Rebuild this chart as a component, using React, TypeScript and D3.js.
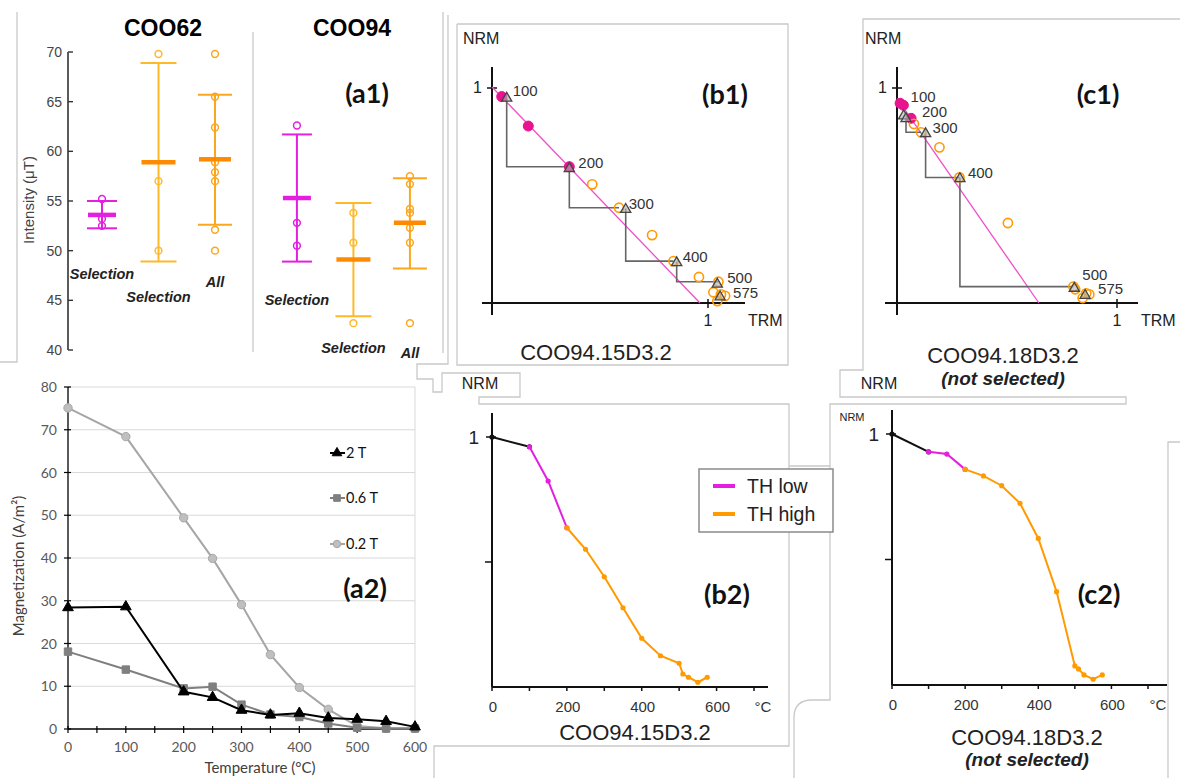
import React from "react";
import * as d3 from "d3";

const ARIAL = "'Liberation Sans', Arial, sans-serif";
const CAL = "Lato, 'Open Sans', sans-serif";

// ---------- (a1) palaeointensity summary ----------
const a1Sites = ["COO62", "COO94"];
const a1GroupLabels = ["Selection", "Selection", "All", "Selection", "Selection", "All"];
const a1GroupKinds = ["low", "high", "all", "low", "high", "all"];
const a1Means = [53.6, 58.9, 59.2, 55.3, 49.1, 52.8];
const a1Upper = [55.0, 68.9, 65.7, 61.7, 54.8, 57.3];
const a1Lower = [52.25, 48.9, 52.6, 48.9, 43.4, 48.2];
const a1Points = [
  [55.2, 53.2, 52.5],
  [69.8, 57.0, 50.0],
  [69.8, 65.5, 62.4, 58.9, 57.9, 57.0, 52.1, 50.0],
  [62.6, 52.8, 50.5],
  [53.8, 50.8, 42.7],
  [57.5, 56.7, 54.2, 53.8, 52.3, 50.8, 42.7],
];
const a1YTicks = [40, 45, 50, 55, 60, 65, 70];

// ---------- (a2) thermomagnetic curves ----------
const a2Temps = [0, 100, 200, 250, 300, 350, 400, 450, 500, 550, 600];
const a2Mag2T = [28.4, 28.6, 8.7, 7.4, 4.4, 3.3, 3.7, 2.6, 2.3, 1.8, 0.5];
const a2Mag06T = [18.1, 13.9, 9.5, 9.9, 5.7, 3.4, 2.8, 1.3, 0.3, 0.1, 0.1];
const a2Mag02T = [75.1, 68.4, 49.4, 39.9, 29.1, 17.4, 9.7, 4.6, 0.7, 0.15, 0.2];
const a2SeriesNames = ["2 T", "0.6 T", "0.2 T"];
const a2XTicks = [0, 100, 200, 300, 400, 500, 600];
const a2YTicks = [0, 10, 20, 30, 40, 50, 60, 70, 80];

// ---------- (b2)/(c2) NRM demagnetisation ----------
const thTemps = [0, 100, 150, 200, 250, 300, 350, 400, 450, 500, 510, 525, 550, 575];
const b2NRM = [1, 0.961, 0.824, 0.637, 0.551, 0.441, 0.317, 0.195, 0.125, 0.095, 0.052, 0.039, 0.019, 0.039];
const c2NRM = [1, 0.929, 0.92, 0.859, 0.833, 0.794, 0.724, 0.584, 0.372, 0.076, 0.064, 0.04, 0.023, 0.04];
const thLowRange = [100, 200];
const demagXTicks = [0, 100, 200, 300, 400, 500, 600, 700];
const demagXLabels = [0, 200, 400, 600];
const legendNames = ["TH low", "TH high"];

// ---------- (b1)/(c1) Arai plots ----------
const araiTemps = [100, 150, 200, 250, 300, 350, 400, 450, 500, 510, 525, 550, 575];
const b1TRM = [0.045, 0.168, 0.358, 0.464, 0.588, 0.741, 0.84, 0.958, 1.048, 1.025, 1.079, 1.043, 1.06];
const b1NRM = [0.96, 0.823, 0.634, 0.552, 0.443, 0.316, 0.195, 0.121, 0.099, 0.05, 0.033, 0.009, 0.04];
const b1CheckTemps = [100, 200, 300, 400, 500, 575];
const b1CheckTRM = [0.068, 0.358, 0.619, 0.855, 1.043, 1.056];
const b1CheckNRM = [0.957, 0.63, 0.44, 0.192, 0.092, 0.033];
const b1CheckTarget = [200, 300, 400, 500, null, null];
const b1Fit = [[0, 1.005], [0.963, 0]];

const c1TRM = [0.014, 0.029, 0.064, 0.077, 0.109, 0.193, 0.284, 0.504, 0.802, 0.81, 0.874, 0.844, 0.86];
const c1NRM = [0.929, 0.92, 0.859, 0.833, 0.794, 0.724, 0.584, 0.372, 0.076, 0.064, 0.04, 0.023, 0.045];
const c1CheckTemps = [100, 200, 300, 400, 500, 575];
const c1CheckTRM = [0.03, 0.041, 0.13, 0.286, 0.806, 0.855];
const c1CheckNRM = [0.875, 0.862, 0.792, 0.583, 0.073, 0.04];
const c1CheckTarget = [null, 300, 400, 500, null, null];
const c1Fit = [[0, 0.952], [0.645, 0]];

const MAG = "#E41FE0";
const PINK = "#E8138E";
const ORANGE = "#FF9A00";
const GOLD = "#FDB92A";
const ALLOR = "#FBA71E";
const MEANOR = "#FF8A00";
const FRAME = "#c9c9c9";

function Poly({ pts }: { pts: number[][] }) {
  return <polyline points={pts.map((p) => p.join(",")).join(" ")} fill="none" stroke={FRAME} strokeWidth={1.3} />;
}

function PanelA1() {
  const y = d3.scaleLinear().domain([40, 70]).range([350, 52]);
  const slot = (i: number) => (i < 3 ? i : i + 0.45);
  const gx = d3.scaleLinear().domain([0, 1]).range([102, 158.5]);
  const labelY = [279, 302, 287, 305, 353, 358];
  const capHalf: Record<string, number> = { low: 15, high: 18, all: 17 };
  const color: Record<string, string> = { low: MAG, high: GOLD, all: ALLOR };
  const meanColor: Record<string, string> = { low: MAG, high: MEANOR, all: MEANOR };
  return (
    <g>
      <text x={163} y={36} textAnchor="middle" fontFamily={ARIAL} fontWeight="bold" fontSize={23} fill="#000">{a1Sites[0]}</text>
      <text x={352} y={36} textAnchor="middle" fontFamily={ARIAL} fontWeight="bold" fontSize={23} fill="#000">{a1Sites[1]}</text>
      <text x={367} y={103} textAnchor="middle" fontFamily={CAL} fontWeight="bold" fontSize={27} fill="#111">(a1)</text>
      <line x1={68} x2={68} y1={y(70)} y2={y(40)} stroke="#333" strokeWidth={1.6} />
      {a1YTicks.map((t) => (
        <g key={t}>
          <line x1={68} x2={73} y1={y(t)} y2={y(t)} stroke="#333" strokeWidth={1.4} />
          <text x={62} y={y(t) + 5} textAnchor="end" fontFamily={ARIAL} fontSize={14} fill="#444">{t}</text>
        </g>
      ))}
      <text transform={`translate(34,200) rotate(-90)`} textAnchor="middle" fontFamily={ARIAL} fontSize={15} fill="#444">Intensity (μT)</text>
      {a1Means.map((m, i) => {
        const k = a1GroupKinds[i];
        const cx = gx(slot(i));
        const h = capHalf[k];
        const c = color[k];
        return (
          <g key={i}>
            <line x1={cx} x2={cx} y1={y(a1Upper[i])} y2={y(a1Lower[i])} stroke={c} strokeWidth={2} />
            <line x1={cx - h} x2={cx + h} y1={y(a1Upper[i])} y2={y(a1Upper[i])} stroke={c} strokeWidth={2} />
            <line x1={cx - h} x2={cx + h} y1={y(a1Lower[i])} y2={y(a1Lower[i])} stroke={c} strokeWidth={2} />
            {a1Points[i].map((p, j) => (
              <circle key={j} cx={cx} cy={y(p)} r={3.4} fill="none" stroke={c} strokeWidth={1.5} />
            ))}
            <line x1={cx - h + 1} x2={cx + h - 1} y1={y(m)} y2={y(m)} stroke={meanColor[k]} strokeWidth={4.5} />
            <text x={cx} y={labelY[i]} textAnchor="middle" fontFamily={ARIAL} fontWeight="bold" fontStyle="italic" fontSize={14.5} fill="#222">{a1GroupLabels[i]}</text>
          </g>
        );
      })}
    </g>
  );
}

function PanelA2() {
  const x = d3.scaleLinear().domain([0, 600]).range([68, 415]);
  const y = d3.scaleLinear().domain([0, 80]).range([729, 387]);
  const line = d3.line<number>().x((_, i) => x(a2Temps[i])).y((d) => y(d));
  const series = [
    { name: a2SeriesNames[2], data: a2Mag02T, color: "#A6A6A6", fill: "#BFBFBF", shape: "circle" },
    { name: a2SeriesNames[1], data: a2Mag06T, color: "#7F7F7F", fill: "#7F7F7F", shape: "square" },
    { name: a2SeriesNames[0], data: a2Mag2T, color: "#000", fill: "#000", shape: "triangle" },
  ];
  const sym = (shape: string, s = 1) =>
    d3.symbol().type(shape === "circle" ? d3.symbolCircle : shape === "square" ? d3.symbolSquare : d3.symbolTriangle).size((shape === "triangle" ? 50 : 55) * s)();
  const legendOrder = [series[2], series[1], series[0]];
  const legendY = [453, 498, 544];
  const minor = d3.range(0, 601, 50);
  return (
    <g>
      {a2YTicks.filter((t) => t > 0).map((t) => (
        <line key={t} x1={x(0)} x2={x(600)} y1={y(t)} y2={y(t)} stroke="#d9d9d9" strokeWidth={1} />
      ))}
      <line x1={x(600)} x2={x(600)} y1={y(80)} y2={y(0)} stroke="#d9d9d9" strokeWidth={1} />
      <line x1={x(0)} x2={x(0)} y1={y(80)} y2={y(0)} stroke="#000" strokeWidth={1.3} />
      <line x1={x(0)} x2={x(600)} y1={y(0)} y2={y(0)} stroke="#000" strokeWidth={1.3} />
      {a2YTicks.map((t) => (
        <g key={t}>
          <line x1={x(0) - 4} x2={x(0) + 3} y1={y(t)} y2={y(t)} stroke="#000" strokeWidth={1.2} />
          <text x={57} y={y(t) + 5} textAnchor="end" fontFamily={CAL} fontSize={14} fill="#595959">{t}</text>
        </g>
      ))}
      {minor.map((t) => (
        <line key={t} x1={x(t)} x2={x(t)} y1={y(0) - 3} y2={y(0) + 4} stroke="#000" strokeWidth={1.2} />
      ))}
      {a2XTicks.map((t) => (
        <text key={t} x={x(t)} y={752} textAnchor="middle" fontFamily={CAL} fontSize={14} fill="#595959">{t}</text>
      ))}
      <text x={260} y={773} textAnchor="middle" fontFamily={CAL} fontSize={15} fill="#404040">Temperature (°C)</text>
      <text transform="translate(24,566) rotate(-90)" textAnchor="middle" fontFamily={CAL} fontSize={15} fill="#404040">Magnetization (A/m²)</text>
      {series.map((s) => (
        <g key={s.name}>
          <path d={line(s.data) || ""} fill="none" stroke={s.color} strokeWidth={2} />
          {s.data.map((d, i) => (
            <path key={i} d={sym(s.shape) || ""} transform={`translate(${x(a2Temps[i])},${y(d)})`} fill={s.fill} stroke={s.color} strokeWidth={1} />
          ))}
        </g>
      ))}
      {legendOrder.map((s, i) => (
        <g key={s.name}>
          <line x1={330} x2={345} y1={legendY[i]} y2={legendY[i]} stroke={s.color} strokeWidth={2} />
          <path d={sym(s.shape, 0.8) || ""} transform={`translate(337,${legendY[i]})`} fill={s.fill} stroke={s.color} />
          <text x={346} y={legendY[i] + 5} fontFamily={CAL} fontSize={14.5} fill="#111">{s.name}</text>
        </g>
      ))}
      <text x={365} y={598} textAnchor="middle" fontFamily={CAL} fontWeight="bold" fontSize={27} fill="#111">(a2)</text>
    </g>
  );
}

type AraiProps = {
  x0: number; x1: number; y0: number; y1: number; axTop: number; axBottom: number; axLeft: number; axRight: number;
  trm: number[]; nrm: number[]; cT: number[]; cTrm: number[]; cNrm: number[]; cTarget: (number | null)[];
  fit: number[][]; labelOff: number[][]; tag: string; tagX: number; name: string; nameY: number; sub?: string;
  nrmX: number;
};

function Arai(p: AraiProps) {
  const x = d3.scaleLinear().domain([0, 1]).range([p.x0, p.x1]);
  const y = d3.scaleLinear().domain([0, 1]).range([p.y0, p.y1]);
  const tri = d3.symbol().type(d3.symbolTriangle).size(45)() || "";
  const lowIdx = (t: number) => t >= thLowRange[0] && t <= thLowRange[1];
  const idxOf = (t: number) => araiTemps.indexOf(t);
  const cx = (p.x0 + p.x1) / 2;
  return (
    <g>
      <text x={p.nrmX} y={44} fontFamily={ARIAL} fontSize={16} fill="#222">NRM</text>
      <line x1={p.x0} x2={p.x0} y1={p.axTop} y2={p.axBottom} stroke="#111" strokeWidth={2} />
      <line x1={p.axLeft} x2={p.axRight} y1={p.y0} y2={p.y0} stroke="#111" strokeWidth={2} />
      <line x1={p.x0 - 5} x2={p.x0 + 5} y1={y(1)} y2={y(1)} stroke="#111" strokeWidth={1.5} />
      <line x1={x(1)} x2={x(1)} y1={p.y0 - 4} y2={p.y0 + 5} stroke="#111" strokeWidth={1.5} />
      <text x={p.x0 - 10} y={y(1) + 5} textAnchor="end" fontFamily={ARIAL} fontSize={16} fill="#222">1</text>
      <text x={x(1)} y={p.y0 + 23} textAnchor="middle" fontFamily={ARIAL} fontSize={16} fill="#222">1</text>
      <text x={p.axRight + 3} y={p.y0 + 23} fontFamily={ARIAL} fontSize={16} fill="#222">TRM</text>
      <line x1={x(p.fit[0][0])} y1={y(p.fit[0][1])} x2={x(p.fit[1][0])} y2={y(p.fit[1][1])} stroke="#F04FC8" strokeWidth={1.3} />
      {p.cT.map((t, i) => {
        const tgt = p.cTarget[i];
        if (tgt == null) return null;
        const j = idxOf(tgt);
        const pts = [
          [x(p.cTrm[i]), y(p.cNrm[i])],
          [x(p.cTrm[i]), y(p.nrm[j])],
          [x(p.trm[j]), y(p.nrm[j])],
        ];
        return <polyline key={t} points={pts.map((q) => q.join(",")).join(" ")} fill="none" stroke="#666" strokeWidth={1.6} />;
      })}
      {p.trm.map((v, i) =>
        lowIdx(araiTemps[i]) ? (
          <circle key={i} cx={x(v)} cy={y(p.nrm[i])} r={5} fill={PINK} stroke={PINK} />
        ) : (
          <circle key={i} cx={x(v)} cy={y(p.nrm[i])} r={4.6} fill="none" stroke={ORANGE} strokeWidth={1.6} />
        )
      )}
      {p.cT.map((t, i) => (
        <path key={t} d={tri} transform={`translate(${x(p.cTrm[i])},${y(p.cNrm[i]) + 1})`} fill="#b0b0b0" stroke="#444" strokeWidth={1.3} fillOpacity={0.6} />
      ))}
      {p.cT.map((t, i) => (
        <text key={t} x={x(p.cTrm[i]) + p.labelOff[i][0]} y={y(p.cNrm[i]) + p.labelOff[i][1]} fontFamily={ARIAL} fontSize={15} fill="#333">{t}</text>
      ))}
      <text x={p.tagX} y={104} textAnchor="middle" fontFamily={CAL} fontWeight="bold" fontSize={27} fill="#111">{p.tag}</text>
      <text x={cx - 4} y={p.nameY} textAnchor="middle" fontFamily={ARIAL} fontSize={22} fill="#222">{p.name}</text>
      {p.sub && (
        <text x={cx - 4} y={p.nameY + 22} textAnchor="middle" fontFamily={ARIAL} fontWeight="bold" fontStyle="italic" fontSize={19} fill="#222">{p.sub}</text>
      )}
    </g>
  );
}

type DemagProps = {
  x0: number; x700: number; y0: number; y1: number; axTop: number; axRight: number; data: number[];
  tag: string; tagX: number; name: string; nameX: number; nameY: number; sub?: string; degX: number;
};

function Demag(p: DemagProps) {
  const x = d3.scaleLinear().domain([0, 700]).range([p.x0, p.x700]);
  const y = d3.scaleLinear().domain([0, 1]).range([p.y0, p.y1]);
  const line = d3.line<number>().x((i) => x(thTemps[i])).y((i) => y(p.data[i]));
  const idx = thTemps.map((_, i) => i);
  const lo = thTemps.indexOf(thLowRange[0]);
  const hi = thTemps.indexOf(thLowRange[1]);
  const segs = [
    { ids: idx.slice(0, lo + 1), color: "#111" },
    { ids: idx.slice(lo, hi + 1), color: MAG },
    { ids: idx.slice(hi), color: ORANGE },
  ];
  return (
    <g>
      <line x1={p.x0} x2={p.x0} y1={p.axTop} y2={p.y0} stroke="#111" strokeWidth={2} />
      <line x1={p.x0} x2={p.axRight} y1={p.y0} y2={p.y0} stroke="#111" strokeWidth={2} />
      <line x1={p.x0 - 6} x2={p.x0 + 4} y1={y(1)} y2={y(1)} stroke="#111" strokeWidth={1.5} />
      <line x1={p.x0 - 7} x2={p.x0} y1={y(0.5)} y2={y(0.5)} stroke="#111" strokeWidth={1.5} />
      <text x={p.x0 - 13} y={y(1) + 7} textAnchor="end" fontFamily={ARIAL} fontSize={19} fill="#222">1</text>
      {demagXTicks.map((t) => (
        <line key={t} x1={x(t)} x2={x(t)} y1={p.y0} y2={p.y0 + 4} stroke="#111" strokeWidth={1.5} />
      ))}
      {demagXLabels.map((t) => (
        <text key={t} x={x(t) + 1} y={p.y0 + 25} textAnchor="middle" fontFamily={ARIAL} fontSize={15} fill="#333">{t}</text>
      ))}
      <text x={p.degX} y={p.y0 + 25} textAnchor="middle" fontFamily={ARIAL} fontSize={15} fill="#333">°C</text>
      {segs.map((s, k) => (
        <g key={k}>
          <path d={line(s.ids) || ""} fill="none" stroke={s.color} strokeWidth={2} />
          {s.ids.map((i) => (
            <circle key={i} cx={x(thTemps[i])} cy={y(p.data[i])} r={2.6} fill={s.color} />
          ))}
        </g>
      ))}
      <text x={p.tagX} y={604} textAnchor="middle" fontFamily={CAL} fontWeight="bold" fontSize={27} fill="#111">{p.tag}</text>
      <text x={p.nameX} y={p.nameY} textAnchor="middle" fontFamily={ARIAL} fontSize={22} fill="#222">{p.name}</text>
      {p.sub && (
        <text x={p.nameX} y={p.nameY + 21} textAnchor="middle" fontFamily={ARIAL} fontWeight="bold" fontStyle="italic" fontSize={19} fill="#222">{p.sub}</text>
      )}
    </g>
  );
}

export default function App() {
  return (
    <svg width={1180} height={778} style={{ position: "absolute", left: 0, top: 0, background: "#fff" }}>
      <rect width={1180} height={778} fill="#fff" />
      {/* panel frames */}
      <Poly pts={[[17, 12], [17, 362], [0, 362]]} />
      <Poly pts={[[253, 32], [253, 352]]} />
      <Poly pts={[[443, 12], [443, 353]]} />
      <Poly pts={[[448, 15], [448, 364], [417, 364], [417, 379], [433, 379], [433, 392], [442, 392], [442, 373], [520, 373], [520, 397], [479, 397], [479, 404], [789, 404], [789, 746], [434, 746], [434, 778]]} />
      <Poly pts={[[457, 24], [788, 24], [788, 365], [457, 365], [457, 24]]} />
      <Poly pts={[[789, 466], [830, 466]]} />
      <Poly pts={[[1180, 19], [863, 19], [863, 370], [840, 370], [840, 397], [1126, 397], [1126, 404], [830, 404], [830, 700], [812, 700]]} />
      <path d="M812,700 Q794,700 794,718 L794,778" fill="none" stroke={FRAME} strokeWidth={1.3} />
      <Poly pts={[[1180, 442], [1168, 442], [1168, 778]]} />
      <text x={480} y={389} textAnchor="middle" fontFamily={ARIAL} fontSize={16} fill="#222">NRM</text>
      <text x={879} y={389} textAnchor="middle" fontFamily={ARIAL} fontSize={16} fill="#222">NRM</text>
      <text x={852} y={421} textAnchor="middle" fontFamily={ARIAL} fontSize={11} fill="#222">NRM</text>

      <PanelA1 />
      <PanelA2 />

      <Arai x0={492} x1={708} y0={303} y1={88} axTop={67} axBottom={315} axLeft={482} axRight={745}
        trm={b1TRM} nrm={b1NRM} cT={b1CheckTemps} cTrm={b1CheckTRM} cNrm={b1CheckNRM} cTarget={b1CheckTarget}
        fit={b1Fit} labelOff={[[6, -1], [9, 0], [3, 1], [6, 0], [10, 0], [13, 2]]}
        tag="(b1)" tagX={725} name="COO94.15D3.2" nameY={360} nrmX={463} />
      <Arai x0={897} x1={1117} y0={303} y1={88} axTop={67} axBottom={315} axLeft={885} axRight={1138}
        trm={c1TRM} nrm={c1NRM} cT={c1CheckTemps} cTrm={c1CheckTRM} cNrm={c1CheckNRM} cTarget={c1CheckTarget}
        fit={c1Fit} labelOff={[[7, -13], [16, -1], [7, 0], [8, 0], [8, -7], [13, 0]]}
        tag="(c1)" tagX={1098} name="COO94.18D3.2" nameY={363} sub="(not selected)" nrmX={865} />

      <Demag x0={492} x700={754} y0={687} y1={437} axTop={413} axRight={768} data={b2NRM}
        tag="(b2)" tagX={727} name="COO94.15D3.2" nameX={635} nameY={740} degX={763} />
      <Demag x0={892} x700={1148} y0={685} y1={434} axTop={410} axRight={1167} data={c2NRM}
        tag="(c2)" tagX={1099} name="COO94.18D3.2" nameX={1027} nameY={745} sub="(not selected)" degX={1158} />

      {/* legend */}
      <g>
        <rect x={699} y={469} width={134} height={63} fill="#fff" stroke="#8a8a8a" strokeWidth={1.5} />
        <line x1={713} x2={735} y1={486} y2={486} stroke={MAG} strokeWidth={4} />
        <text x={747} y={493} fontFamily={ARIAL} fontSize={19.5} fill="#222">{legendNames[0]}</text>
        <line x1={713} x2={735} y1={514} y2={514} stroke={ORANGE} strokeWidth={4} />
        <text x={747} y={521} fontFamily={ARIAL} fontSize={19.5} fill="#222">{legendNames[1]}</text>
      </g>
    </svg>
  );
}
